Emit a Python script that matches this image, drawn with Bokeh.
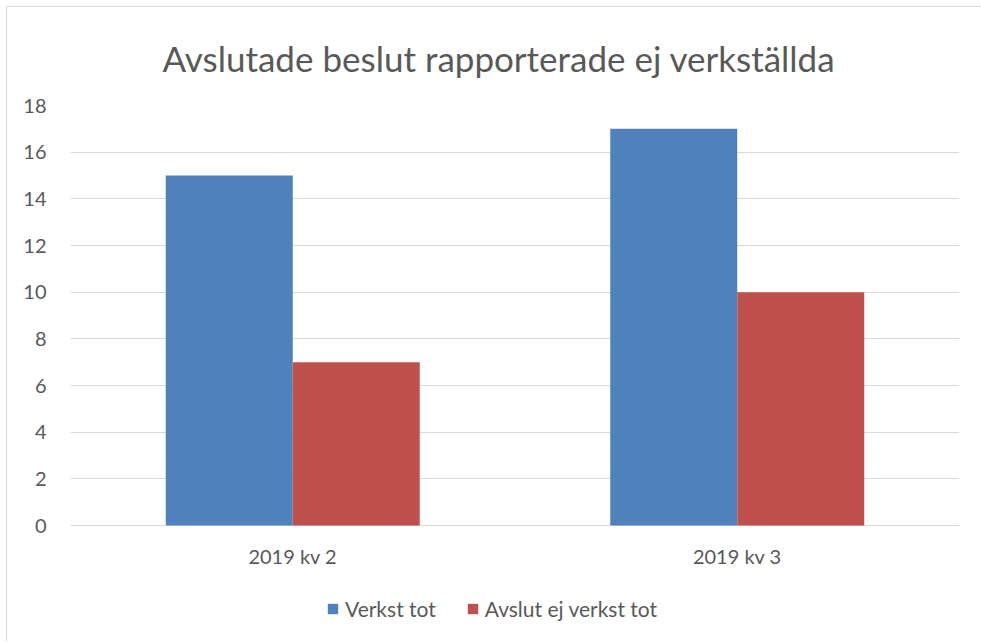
from bokeh.plotting import figure
from bokeh.models import FactorRange, Range1d, Legend, LegendItem, ColumnDataSource
from bokeh.core.properties import value
from bokeh.layouts import column
from bokeh.transform import dodge
from bokeh.embed import file_html
from bokeh.resources import INLINE

categories = ["2019 kv 2", "2019 kv 3"]
verkst_tot = [15, 17]
avslut_ej_verkst_tot = [7, 10]
y_ticks = [0, 2, 4, 6, 8, 10, 12, 14, 16, 18]

src = ColumnDataSource(dict(cat=categories, a=verkst_tot, b=avslut_ej_verkst_tot))

FONT = "Lato"
GRAY = "#595959"

# layout constants (pixels)
FRAME_H = 536          # frame from y=18 down to canvas bottom
PX_PER_UNIT = 420 / 18  # 0..18 spans 420 px
Y_MIN = 18 - FRAME_H / PX_PER_UNIT
LABEL_Y = -30 / PX_PER_UNIT

p = figure(width=974, height=634, output_backend="svg", toolbar_location=None,
           x_range=FactorRange(*categories, range_padding=0), y_range=Range1d(Y_MIN, 18),
           min_border_left=63, min_border_right=22, min_border_top=98, min_border_bottom=0)

bw = 0.2857
r1 = p.vbar(x=dodge("cat", -bw / 2, range=p.x_range), top="a", width=bw, source=src,
            fill_color="#4F81BD", line_color=None)
r2 = p.vbar(x=dodge("cat", bw / 2, range=p.x_range), top="b", width=bw, source=src,
            fill_color="#C0504D", line_color=None)

p.text(x=categories, y=[LABEL_Y] * len(categories), text=categories,
       text_align="center", text_baseline="middle", text_font=value(FONT),
       text_font_size="20px", text_color=GRAY)

p.title.text = "Avslutade beslut rapporterade ej verkställda"
p.title.align = "left"
p.title.offset = 92
p.title.text_font = FONT
p.title.text_font_size = "35px"
p.title.text_color = GRAY
p.title.text_font_style = "normal"
p.title.standoff = 53

p.outline_line_color = None
p.xgrid.grid_line_color = None
p.ygrid.grid_line_color = "#D9D9D9"
p.ygrid.grid_line_width = 1

p.yaxis.ticker = y_ticks
p.yaxis.axis_line_color = None
p.yaxis.major_tick_line_color = None
p.yaxis.minor_tick_line_color = None
p.yaxis.major_label_text_font = FONT
p.yaxis.major_label_text_font_size = "20px"
p.yaxis.major_label_text_color = GRAY
p.yaxis.major_label_standoff = 18

p.xaxis.visible = False

legend = Legend(items=[LegendItem(label="Verkst tot", renderers=[r1]),
                       LegendItem(label="Avslut ej verkst tot", renderers=[r2])],
                orientation="horizontal", location=(256, 20),
                label_text_font=FONT, label_text_font_size="21px", label_text_color=GRAY,
                glyph_width=13, glyph_height=13, spacing=30, label_standoff=6,
                border_line_color=None, background_fill_alpha=0, padding=0, margin=0)
p.add_layout(legend, "center")

layout = column(p, styles={"border-left": "1px solid #D9D9D9", "border-top": "1px solid #D9D9D9",
                           "margin-left": "6px", "margin-top": "6px"})
open("out.html", "w").write(file_html(layout, INLINE))
